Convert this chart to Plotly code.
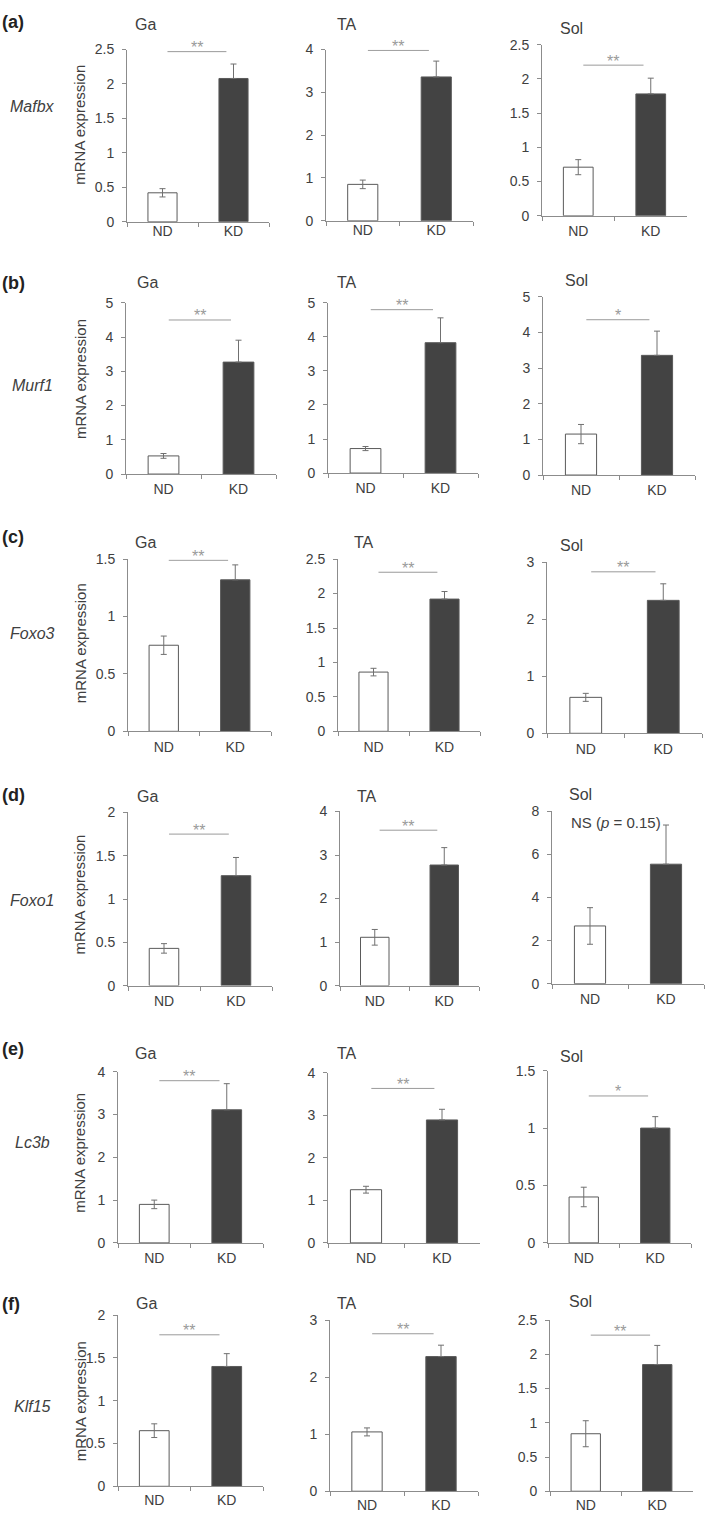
import plotly.graph_objects as go

W, H = 708, 1523

# ---------------- data ----------------
row_labels = ["(a)", "(b)", "(c)", "(d)", "(e)", "(f)"]
genes = ["Mafbx", "Murf1", "Foxo3", "Foxo1", "Lc3b", "Klf15"]
muscles = ["Ga", "TA", "Sol"]
groups = ["ND", "KD"]

nd_mean = [[0.42, 0.85, 0.71], [0.53, 0.72, 1.15], [0.75, 0.86, 0.63],
           [0.43, 1.11, 2.68], [0.90, 1.25, 0.40], [0.65, 1.04, 0.84]]
nd_err = [[0.06, 0.10, 0.11], [0.07, 0.06, 0.27], [0.08, 0.055, 0.07],
          [0.055, 0.18, 0.85], [0.10, 0.08, 0.085], [0.08, 0.07, 0.19]]
kd_mean = [[2.08, 3.36, 1.78], [3.27, 3.83, 3.36], [1.32, 1.92, 2.33],
           [1.27, 2.77, 5.55], [3.11, 2.89, 1.00], [1.40, 2.36, 1.85]]
kd_err = [[0.21, 0.37, 0.23], [0.64, 0.73, 0.68], [0.13, 0.11, 0.29],
          [0.21, 0.40, 1.82], [0.61, 0.25, 0.10], [0.15, 0.20, 0.28]]

y_max = [[2.5, 4, 2.5], [5, 5, 5], [1.5, 2.5, 3], [2, 4, 8], [4, 4, 1.5], [2, 3, 2.5]]
y_dtick = [[0.5, 1, 0.5], [1, 1, 1], [0.5, 0.5, 1], [0.5, 1, 2], [1, 1, 0.5], [0.5, 1, 0.5]]

sig_text = [["**", "**", "**"], ["**", "**", "*"], ["**", "**", "**"],
            ["**", "**", "NS (<i>p</i> = 0.15)"], ["**", "**", "*"], ["**", "**", "**"]]
sig_y = [[2.47, 3.98, 2.2], [4.5, 4.8, 4.36], [1.49, 2.31, 2.83],
         [1.75, 3.57, 7.49], [3.79, 3.63, 1.28], [1.77, 2.76, 2.28]]

# ---------------- layout geometry (pixels) ----------------
x_left = [[127, 326, 542], [126, 328, 543], [128, 338, 547], [128, 340, 552], [118, 328, 548], [118, 330, 550]]
x_right = [[269, 473, 687], [276, 478, 695], [271, 480, 702], [272, 479, 704], [263, 480, 691], [263, 478, 693]]
y_top = [[42, 42, 37], [298, 298, 292], [557, 557, 560], [813, 812, 812], [1075, 1076, 1074], [1321, 1326, 1326]]
y_zero = [[216, 215, 210], [471, 470, 472], [731, 731, 733], [988, 988, 986], [1248, 1248, 1248], [1494, 1499, 1499]]
xlab_standoff = [[-4, -4, 2], [2, 2, 2], [3, 3, 3], [3, 3, 3], [2, 2, 2], [1, 1, 1]]
title_dx = [[6, 9, 16], [9, 7, 20], [5, 14, 11], [7, 15, 15], [15, 7, 10], [16, 5, 17]]
title_y = [[17, 17, 21], [277, 277, 275], [540, 540, 543], [797, 797, 795], [1057, 1057, 1060], [1309, 1309, 1307]]
row_label_y = [14, 278, 535, 795, 1052, 1310]
gene_y = [100, 382, 632, 902, 1147, 1413]
ylabel_y = [118, 375, 642, 896, 1157, 1408]

FONT = "Arial, Liberation Sans, sans-serif"
TXT = "#404040"
AX = "#8c8c8c"
SIG = "#9a9a9a"


def px(x):
    return x / W


def py(y):
    return 1 - y / H


fig = go.Figure()
layout = {}
shapes = []
annotations = []

for r in range(6):
    for c in range(3):
        k = r * 3 + c + 1
        xa = "x" if k == 1 else f"x{k}"
        ya = "y" if k == 1 else f"y{k}"
        fig.add_trace(go.Bar(
            x=groups,
            y=[nd_mean[r][c], kd_mean[r][c]],
            width=0.41,
            marker=dict(color=["#ffffff", "#434343"], line=dict(color="#5a5a5a", width=1)),
            error_y=dict(type="data", symmetric=False,
                         array=[nd_err[r][c], kd_err[r][c]],
                         arrayminus=[nd_err[r][c], 0],
                         color="#707070", thickness=1, width=3),
            xaxis=xa, yaxis=ya, showlegend=False, hoverinfo="skip",
        ))
        layout["xaxis" if k == 1 else f"xaxis{k}"] = dict(
            domain=[px(x_left[r][c]), px(x_right[r][c])], anchor=ya,
            type="category", categoryorder="array", categoryarray=groups,
            range=[-0.5, 1.5], showline=True, linecolor=AX, linewidth=1,
            ticks="outside", tickson="boundaries", ticklen=4, tickcolor=AX,
            ticklabelstandoff=xlab_standoff[r][c],
            tickfont=dict(size=14, color=TXT, family=FONT),
            showgrid=False, zeroline=False, fixedrange=True,
        )
        layout["yaxis" if k == 1 else f"yaxis{k}"] = dict(
            domain=[py(y_zero[r][c]), py(y_top[r][c])], anchor=xa,
            range=[0, y_max[r][c]], tick0=0, dtick=y_dtick[r][c],
            showline=True, linecolor=AX, linewidth=1,
            ticks="outside", ticklen=4, tickcolor=AX, ticklabelstandoff=5,
            tickfont=dict(size=14, color=TXT, family=FONT),
            showgrid=False, zeroline=False, fixedrange=True,
        )
        # panel title
        annotations.append(dict(
            x=px(x_left[r][c] + title_dx[r][c]), y=py(title_y[r][c]),
            xref="paper", yref="paper", xanchor="left", yanchor="middle",
            text=muscles[c], showarrow=False,
            font=dict(size=16, color=TXT, family=FONT)))
        # significance
        txt = sig_text[r][c]
        if txt.startswith("NS"):
            annotations.append(dict(
                x=0.34, y=sig_y[r][c], xref=xa, yref=ya,
                xanchor="center", yanchor="middle", text=txt, showarrow=False,
                font=dict(size=15, color=TXT, family=FONT)))
        else:
            shapes.append(dict(type="line", xref=xa, yref=ya,
                               x0=0.07, x1=0.9, y0=sig_y[r][c], y1=sig_y[r][c],
                               line=dict(color=SIG, width=1)))
            annotations.append(dict(
                x=0.485, y=sig_y[r][c], xref=xa, yref=ya,
                xanchor="center", yanchor="middle", yshift=4,
                text=txt, showarrow=False,
                font=dict(size=16, color=SIG, family=FONT)))
    # row label
    annotations.append(dict(
        x=0, y=py(row_label_y[r]), xref="paper", yref="paper",
        xanchor="left", yanchor="middle", text=f"<b>{row_labels[r]}</b>",
        showarrow=False, font=dict(size=18, color="#222222", family=FONT)))
    # gene name
    annotations.append(dict(
        x=px(32), y=py(gene_y[r]), xref="paper", yref="paper",
        xanchor="center", yanchor="middle", text=f"<i>{genes[r]}</i>",
        showarrow=False, font=dict(size=16, color=TXT, family=FONT)))
    # y label
    annotations.append(dict(
        x=px(80), y=py(ylabel_y[r]), xref="paper", yref="paper",
        xanchor="center", yanchor="middle", text="mRNA expression",
        textangle=-90, showarrow=False,
        font=dict(size=15, color=TXT, family=FONT)))

fig.update_layout(
    width=W, height=H, margin=dict(l=0, r=0, t=0, b=0),
    paper_bgcolor="white", plot_bgcolor="white",
    barmode="overlay", font=dict(family=FONT, color=TXT),
    shapes=shapes, annotations=annotations, **layout,
)

fig.write_html("out.html", config={"displayModeBar": False},
               post_script="document.body.style.margin='0';document.body.style.overflow='hidden';")
